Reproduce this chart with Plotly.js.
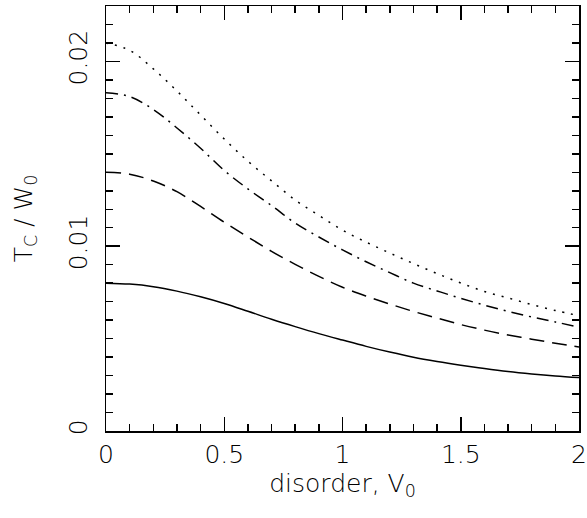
<!DOCTYPE html>
<html>
<head>
<meta charset="utf-8">
<script src="https://cdn.plot.ly/plotly-3.0.1.min.js"></script>
<style>html,body{margin:0;padding:0;background:#fff;}#chart{width:587px;height:518px;}</style>
</head>
<body>
<div id="chart"></div>
<script>
const disorder = [0,0.1,0.2,0.3,0.4,0.5,0.6,0.7,0.8,0.9,1.0,1.1,1.2,1.3,1.4,1.5,1.6,1.7,1.8,1.9,2.0];
const tcSolid = [0.0080,0.00795,0.00781,0.00757,0.00726,0.0069,0.00648,0.00605,0.00565,0.00527,0.00492,0.00458,0.00427,0.00399,0.00376,0.00356,0.00338,0.00322,0.00309,0.00298,0.00289];
const tcDashed = [0.0140,0.0139,0.01353,0.01295,0.01215,0.0113,0.0105,0.00972,0.00902,0.00837,0.00778,0.0073,0.00687,0.00647,0.00611,0.00576,0.00546,0.0052,0.00497,0.00475,0.00455];
const tcDashDot = [0.0183,0.0181,0.0174,0.0164,0.0153,0.0141,0.0131,0.0122,0.01125,0.0105,0.0098,0.00916,0.00857,0.0080,0.00758,0.00718,0.00681,0.00647,0.00617,0.0059,0.00562];
const tcDotted = [0.0210,0.0206,0.0196,0.0184,0.0171,0.0158,0.0146,0.01354,0.0125,0.01167,0.01087,0.01022,0.00963,0.00906,0.00852,0.00801,0.00755,0.0072,0.00684,0.00652,0.00624];
const xTicks = [0,0.5,1,1.5,2];
const xTickText = ['0','0.5','1','1.5','2'];
const yTicks = [0,0.01,0.02];
const yTickText = ['0','0.01','0.02'];

const series = [
  {y: tcSolid, dash: 'solid'},
  {y: tcDashed, dash: '15px,8px'},
  {y: tcDashDot, dash: '12px,6px,2px,6px'},
  {y: tcDotted, dash: '2px,7px'}
];
const traces = series.map(s => ({
  x: disorder, y: s.y, type: 'scatter', mode: 'lines',
  line: {color: '#000', width: 1.5, dash: s.dash, shape: 'spline'},
  showlegend: false, hoverinfo: 'skip'
}));

const font = {family: '"DejaVu Sans", "Liberation Sans", sans-serif', size: 25, color: '#000', weight: 200};
const layout = {
  width: 587, height: 518,
  margin: {l: 106, r: 8, t: 6, b: 87},
  paper_bgcolor: '#fff', plot_bgcolor: '#fff',
  font: font,
  xaxis: {
    range: [0, 2], tickmode: 'array', tickvals: xTicks, ticktext: xTickText,
    ticks: 'inside', ticklen: 14, tickwidth: 1.5, tickcolor: '#000', ticklabelstandoff: 0,
    minor: {dtick: 0.1, ticks: 'inside', ticklen: 7, tickwidth: 1.5, tickcolor: '#000', showgrid: false},
    showline: true, linecolor: '#000', linewidth: 1.5, mirror: 'ticks',
    showgrid: false, zeroline: false, tickfont: font,
    title: {text: 'disorder, V<sub>0</sub>', font: font, standoff: 0}
  },
  yaxis: {
    range: [0, 0.023], tickmode: 'array', tickvals: yTicks, ticktext: yTickText,
    ticks: 'inside', ticklen: 14, tickwidth: 1.5, tickcolor: '#000', tickangle: -90, ticklabelstandoff: 8,
    minor: {dtick: 0.001, ticks: 'inside', ticklen: 7, tickwidth: 1.5, tickcolor: '#000', showgrid: false},
    showline: true, linecolor: '#000', linewidth: 1.5, mirror: 'ticks',
    showgrid: false, zeroline: false, tickfont: font,
    title: {text: 'T<sub>C</sub> / W<sub>0</sub>', font: font, standoff: 24}
  }
};
Plotly.newPlot('chart', traces, layout, {staticPlot: true, displayModeBar: false});
</script>
</body>
</html>
